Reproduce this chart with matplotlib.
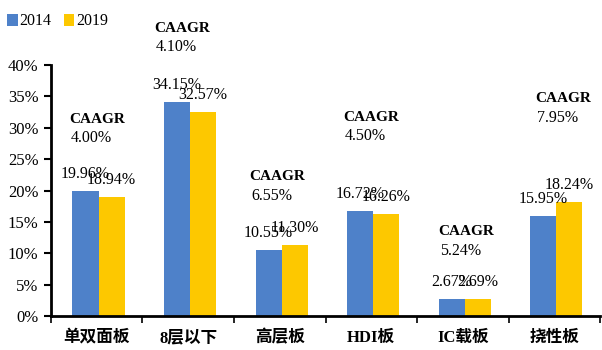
import matplotlib.pyplot as plt
import numpy as np

categories = ['单双面板', '8层以下', '高层板', 'HDI板', 'IC载板', '挠性板']
share_2014 = [19.96, 34.15, 10.55, 16.72, 2.67, 15.95]
share_2019 = [18.94, 32.57, 11.30, 16.26, 2.69, 18.24]
caagr = ['4.00%', '4.10%', '6.55%', '4.50%', '5.24%', '7.95%']

# where the CAAGR notes sit (x offset from category centre, y in %)
note_dx = [-0.30, -0.37, -0.33, -0.31, -0.27, -0.21]
note_y = [31.4, 45.9, 22.2, 31.7, 13.4, 34.6]

blue = '#4e81c9'
yellow = '#fdc800'
fonts = ['Liberation Serif', 'Noto Sans CJK SC']

fig = plt.figure(figsize=(6.02, 3.5), dpi=100)
ax = fig.add_axes([0.0847, 0.0971, 0.912, 0.717])

x = np.arange(len(categories))
w = 0.285
b1 = ax.bar(x - w / 2 + 0.02, share_2014, w, color=blue, label='2014')
b2 = ax.bar(x + w / 2 + 0.02, share_2019, w, color=yellow, label='2019')

for bars, vals in [(b1, share_2014), (b2, share_2019)]:
    for r, v in zip(bars, vals):
        ax.annotate(f'{v:.2f}%', (r.get_x() + r.get_width() / 2, v),
                    xytext=(0, 17), textcoords='offset pixels',
                    ha='center', va='center', fontsize=11.5, family=fonts)

for i in range(len(categories)):
    ax.text(i + note_dx[i], note_y[i], 'CAAGR', ha='left', va='center',
            fontsize=11, fontweight='bold', family=fonts, clip_on=False)
    ax.text(i + note_dx[i] + 0.02, note_y[i] - 3.0, caagr[i], ha='left', va='center',
            fontsize=11.5, family=fonts, clip_on=False)

ax.set_xlim(-0.5, len(categories) - 0.5)
ax.set_ylim(0, 40)
ax.set_yticks(np.arange(0, 41, 5))
ax.set_yticklabels([f'{t}%' for t in range(0, 41, 5)], family=fonts, fontsize=12)
ax.set_xticks(x)
ax.set_xticklabels(categories, family=fonts, fontsize=12, fontweight='bold')
ax.set_xticks(np.arange(-0.5, len(categories), 1), minor=True)
ax.tick_params(axis='x', which='major', length=0, pad=10)
ax.tick_params(axis='x', which='minor', length=5, width=1.2, direction='out')
ax.tick_params(axis='y', length=5, width=1.5, direction='out', pad=4)

ax.spines['top'].set_visible(False)
ax.spines['right'].set_visible(False)
ax.spines['left'].set_linewidth(2)
ax.spines['bottom'].set_linewidth(2)

fig.legend(handles=[b1, b2], loc='upper left', bbox_to_anchor=(0.012, 0.962), ncol=2,
           frameon=False, borderpad=0, borderaxespad=0,
           handlelength=0.65, handleheight=0.75, handletextpad=0.1,
           columnspacing=0.8, prop={'family': fonts, 'size': 11.5})

fig.savefig('out.png', dpi=100)
